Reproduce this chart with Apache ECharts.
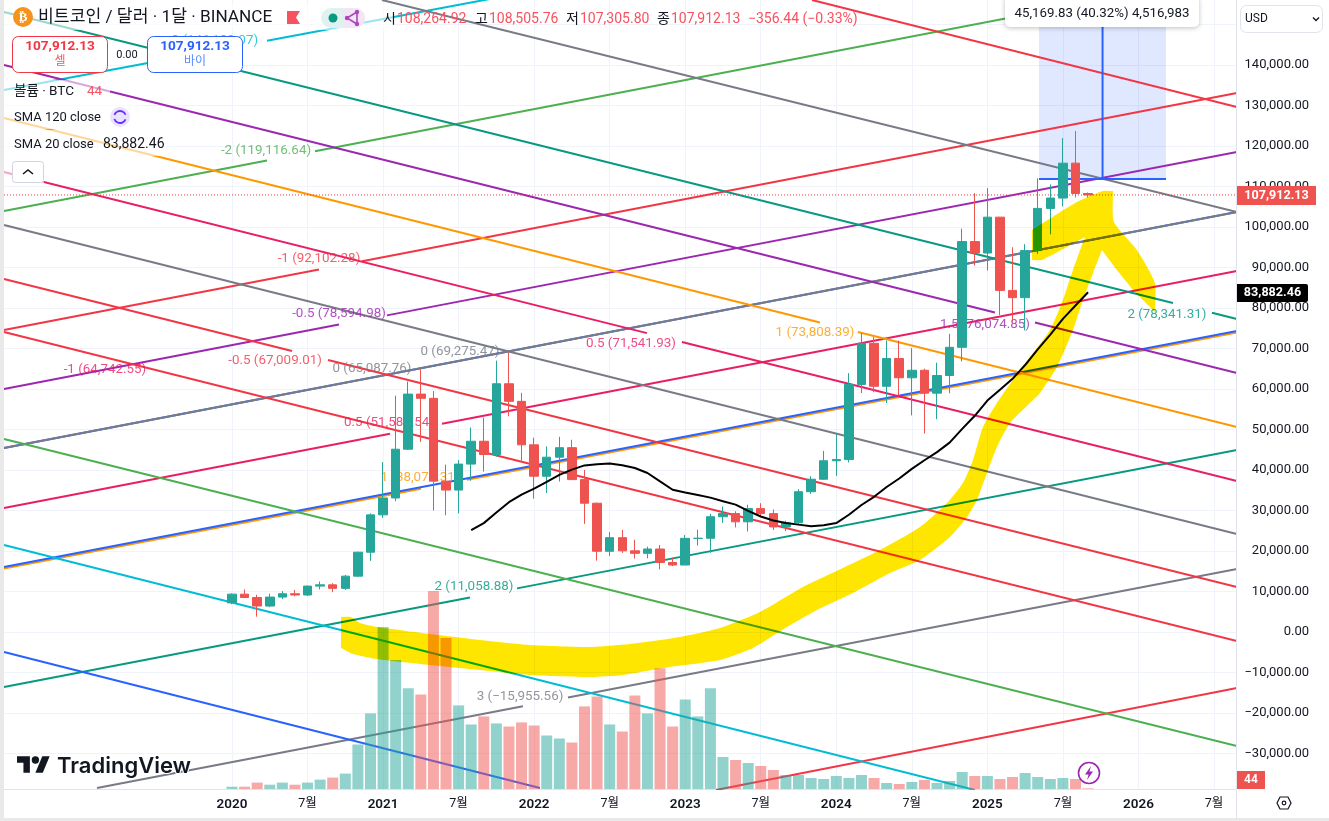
<!DOCTYPE html>
<html><head><meta charset="utf-8">
<style>html,body{margin:0;padding:0;background:#fff}#c{width:1329px;height:821px}</style>
<script src="https://cdn.jsdelivr.net/npm/echarts@6/dist/echarts.min.js"></script>
</head><body><div id="c"></div>
<script>
// Month index: 0 = 2020-01
const priceTicks=[-30000,-20000,-10000,0,10000,20000,30000,40000,50000,60000,70000,80000,90000,100000,110000,120000,130000,140000,150000];
const priceLabelTicks=[-30000,-20000,-10000,0,10000,20000,30000,40000,50000,60000,70000,80000,90000,100000,110000,120000,130000,140000];
const timeTicks=[0,6,12,18,24,30,36,42,48,54,60,66,72,78];
const timeLabels=['2020','7월','2021','7월','2022','7월','2023','7월','2024','7월','2025','7월','2026','7월'];
const opens=[7195,9351,8523,6410,8620,9448,9138,11335,11649,10776,13791,19700,28923,33092,45134,58739,57697,37253,35045,41461,47100,43820,61299,56950,46216,38466,43160,45510,37630,31801,19942,23296,20048,19422,20490,17165,16541,23125,23142,28465,29233,27210,30471,29232,25940,26962,34639,37723,42283,42580,61130,71280,60672,67540,62772,64628,58973,63327,70292,96407,93576,102429,84349,82550,94172,104591,107146,115764,108264.92];
const highs=[9553,10500,9188,9460,10080,10380,11444,12468,12050,14100,19863,29300,41950,58352,61844,64854,59500,41330,42448,50500,52920,67000,69000,59053,47990,45821,48189,47464,40023,31982,24668,25200,22799,21085,21480,18387,23960,25250,29184,31000,29820,31431,31804,30244,27483,35280,38450,44700,48969,63913,73777,72797,71979,71958,70079,65000,66498,73620,99588,108353,109588,102500,95000,95758,111980,110530,121950,123700,108505.76];
const lows=[6850,8410,3782,6150,8117,8833,8893,10518,9825,10376,13621,17572,28130,32296,44950,46930,30000,28805,29278,37332,39600,43283,53256,42000,32917,34322,37155,37578,26700,17622,18781,19520,18125,18190,15476,16256,16499,21351,19549,26942,25811,24800,28861,25166,24901,26538,34097,37615,38555,41884,59005,59191,56552,58402,53485,49000,52550,58946,66835,90500,89256,78258,76606,74508,93377,98200,105100,107300,107305.80];
const closes=[9352,8523,6410,8620,9448,9138,11335,11649,10776,13791,19700,28923,33092,45135,58740,57694,37253,35045,41461,47101,43824,61299,56950,46216,38466,43160,45510,37630,31801,19942,23293,20050,19422,20490,17163,16542,23125,23142,28465,29233,27210,30472,29232,25940,26962,34639,37723,42283,42580,61130,71280,60672,67540,62772,64628,58973,63327,70292,96407,93576,102429,84349,82550,94172,104591,107146,115764,108264,107912.13];
// Volume, thousand BTC
const volumes=[23,23,64,43,64,43,64,94,114,154,445,756,1620,1290,1007,946,1980,1510,836,645,726,656,625,666,635,535,505,465,826,926,645,575,936,756,1207,625,896,726,1007,320,290,260,230,190,140,140,110,100,130,110,140,110,60,50,70,90,60,80,170,130,130,100,120,160,120,100,110,100,7];
const smaStart=19;
const sma20=[25159,26883,29522,32049,33928,35379,37080,38789,40088,41140,41447,41627,41183,40500,39267,37188,35131,34424,33829,33180,32286,31455,29914,28528,27514,26939,26513,26124,26356,26895,28955,31354,33385,35791,37905,40279,42400,44410,46768,50165,53382,57143,59837,62503,65914,69796,73421,77323,80622,83889];
// Drawn trend lines: start month/price, end month/price, gap month range for its label
const lineColors=['#00bcd4','#4caf50','#f23645','#9c27b0','#2962ff','#787b86','#e91e63','#ff9800','#2962ff','#089981','#787b86','#f23645','#787b86','#f23645','#089981','#9c27b0','#ff9800','#e91e63','#787b86','#f23645','#f23645','#4caf50','#00bcd4','#2962ff'];
const lineM0=[-18.11,-18.11,-18.11,-18.11,-18.11,-18.11,-18.11,-18.11,-18.11,-18.11,-10.72,38.44,11.91,46.07,-18.11,-18.11,-18.11,-18.11,-18.11,-18.11,-18.11,-18.11,-18.11,-18.11];
const lineP0=[133825,103949,74567,59999,45431,45431,30617,15679,16049,-13580,-38518,-39012,156049,156049,153084,139998,126912,113579,100492,87159,74073,47654,21481,-4938];
const lineM1=[79.82,79.82,79.82,79.82,79.82,79.82,79.82,79.82,79.82,79.82,79.82,79.82,79.82,79.82,79.82,79.82,79.82,79.82,79.82,79.82,79.82,79.82,59.01,24.46];
const lineP1=[190861,162467,133084,118517,103702,103702,89134,73950,74320,44938,15555,-13827,103702,129628,77283,63950,50617,37283,24197,11111,-2222,-28148,-39012,-38518];
const lineGapA=[-1.51,2.78,6.91,8.50,null,null,12.55,15.01,null,18.90,23.11,null,null,null,74.74,60.60,46.70,32.96,null,4.77,null,null,null,null];
const lineGapB=[2.78,6.59,10.33,12.31,null,null,16.68,18.67,null,22.64,26.69,null,null,null,77.84,63.78,49.72,35.74,null,7.63,null,null,null,null];
// Level labels of the drawings
const tagTexts=['-3 (146,130.07)','-2 (119,116.64)','-1 (92,102.28)','-0.5 (78,594.98)','-1 (64,742.55)','-0.5 (67,009.01)','0 (65,087.76)','0 (69,275.47)','0.5 (51,581.54)','1 (38,071.31)','0.5 (71,541.93)','1 (73,808.39)','1.5 (76,074.85)','2 (78,341.31)','2 (11,058.88)','3 (−15,955.56)'];
const tagMonths=[-1.51,2.70,6.91,8.50,-10.09,3.42,11.12,18.11,12.47,14.93,31.69,46.31,59.81,74.26,19.22,22.88];
const tagPrices=[145924,118764,92097,78517,64690,66913,64937,69135,51604,38024,71110,73826,75801,78270,11111,-16049];
const tagColors=['#00bcd4','#4caf50','#f23645','#9c27b0','#e91e63','#f23645','#787b86','#787b86','#e91e63','#ff9800','#e91e63','#ff9800','#9c27b0','#089981','#089981','#787b86'];
// Measure tool
const measureMonths=[64.10,69.15,74.19];
const measurePrices=[111850,157020];
const lastPrice=107912.13;
// Yellow highlighter stroke (repeated points keep its corners sharp)
const brushMonths=[8.66,8.66,9.45,10.17,11.52,15.73,19.70,23.67,28.44,31.61,35.58,38.76,41.94,45.35,48.53,51.47,54.65,56.79,58.06,58.86,59.65,60.76,62.59,64.97,66.00,66.80,67.75,67.75,64.34,63.54,63.54,63.54,63.54,67.12,69.18,69.98,69.98,70.06,71.88,73.31,73.31,73.31,71.72,70.29,69.10,69.10,68.39,67.59,66.80,65.53,64.18,63.38,61.80,60.76,59.97,59.17,58.38,57.03,54.65,52.26,49.32,46.47,44.08,41.38,38.76,34.23,31.06,28.44,23.67,19.70,15.73,11.52,9.61,8.66,8.66];
const brushPrices=[3704,3704,3704,2222,1235,-494,-1975,-3210,-3704,-2963,-1235,988,4938,11111,15802,20247,25926,31851,36790,42469,50617,56542,64690,74567,81975,89381,97530,97530,91851,91851,91851,99258,99258,106171,108889,108889,108889,101233,94319,86172,79011,79011,83949,89381,94319,94319,88641,81975,74567,65431,59011,56542,51604,45678,39259,32592,28395,23456,17777,14568,9629,5432,1235,-3951,-6913,-8889,-10617,-11111,-10617,-9383,-8148,-6667,-5432,-3951,-3951];

const up='#26a69a',down='#ef5350',BRUSH='#ffe600';
const LF='Roboto,"Noto Sans CJK KR",sans-serif';
const candles=opens.map((o,i)=>[i,o,closes[i],lows[i],highs[i]]);
const volData=volumes.map((v,i)=>({value:[i,v],itemStyle:{color:closes[i]>=opens[i]?'rgba(38,166,154,0.5)':'rgba(239,83,80,0.5)'}}));
function lineSegs(i){
  const a=[lineM0[i],lineP0[i]],b=[lineM1[i],lineP1[i]];
  if(lineGapA[i]==null) return [a,b];
  const at=m=>[m,a[1]+(b[1]-a[1])*(m-a[0])/(b[0]-a[0])];
  return [a,at(lineGapA[i]),[null,null],at(lineGapB[i]),b];
}
const series=[];
series.push({type:'custom',name:'measure',xAxisIndex:0,yAxisIndex:0,z:1,clip:true,silent:true,data:[[measureMonths[0],measurePrices[0]]],
  renderItem(p,api){const a=api.coord([measureMonths[0],measurePrices[1]]),b=api.coord([measureMonths[2],measurePrices[0]]);
    return {type:'rect',shape:{x:a[0],y:a[1],width:b[0]-a[0],height:b[1]-a[1]},style:{fill:'rgba(41,98,255,0.15)'}};}});
lineColors.forEach((c,i)=>series.push({type:'line',silent:true,symbol:'none',z:2,connectNulls:false,lineStyle:{color:c,width:2,opacity:1},data:lineSegs(i)}));
series.push({type:'line',silent:true,symbol:'none',z:2,lineStyle:{color:'#2962ff',width:2},data:[[measureMonths[0],measurePrices[0]],[measureMonths[2],measurePrices[0]]]});
series.push({type:'line',silent:true,symbol:'none',z:2,lineStyle:{color:'#2962ff',width:2},data:[[measureMonths[1],measurePrices[0]],[measureMonths[1],measurePrices[1]]]});
series.push({type:'scatter',silent:true,symbolSize:0,z:2,data:tagTexts.map((t,i)=>({value:[tagMonths[i],tagPrices[i]],label:{show:true,position:'inside',formatter:t,color:tagColors[i],fontSize:13.4,fontFamily:LF}}))});
series.push({type:'bar',silent:true,yAxisIndex:1,barWidth:11,z:3,data:volData});
series.push({type:'line',silent:true,symbol:'none',z:3,lineStyle:{color:'#f23645',width:1,type:[1,2]},data:[[lineM0[0],lastPrice],[lineM1[0],lastPrice]]});
series.push({type:'candlestick',silent:true,z:4,barWidth:9,encode:{x:0,y:[1,2,3,4]},itemStyle:{color:up,color0:down,borderColor:up,borderColor0:down,borderWidth:1},data:candles});
series.push({type:'line',silent:true,symbol:'none',z:5,lineStyle:{color:'#000',width:2},data:sma20.map((v,i)=>[smaStart+i,v])});
series.push({type:'custom',name:'brush',silent:true,z:6,data:[[0,0]],
  renderItem(p,api){return {type:'polygon',shape:{smooth:0.2,points:brushMonths.map((m,i)=>api.coord([m,brushPrices[i]]))},style:{fill:BRUSH,blend:'multiply'}};}});

// ---- Interface furniture
const g=[];
const T=(x,y,text,o={})=>g.push({type:'text',x,y:y+1,z:o.z||30,silent:true,style:{text,fill:o.c||'#131722',font:`${o.w||'normal'} ${o.s||13}px ${o.f||LF}`,textAlign:o.a||'left',align:o.a||'left',textVerticalAlign:'middle',verticalAlign:'middle'}});
const R=(x,y,w,h,o={})=>g.push({type:'rect',z:o.z||20,silent:true,shape:{x,y,width:w,height:h,r:o.r||0},style:{fill:o.fill==null?'#fff':o.fill,stroke:o.stroke||null,lineWidth:o.lw||1,opacity:o.op==null?1:o.op,shadowBlur:o.sb||0,shadowColor:'rgba(0,0,0,0.25)',shadowOffsetY:o.sb?1:0}});
const C=(cx,cy,r,o={})=>g.push({type:'circle',z:o.z||25,silent:true,shape:{cx,cy,r},style:{fill:o.fill==null?'#fff':o.fill,stroke:o.stroke||null,lineWidth:o.lw||1}});
const PL=(pts,o={})=>g.push({type:'polyline',z:o.z||25,silent:true,shape:{points:pts},style:{fill:null,stroke:o.c||'#131722',lineWidth:o.lw||1.5}});
// frame
R(0,0,4,821,{fill:'#e9e9ea',z:28});
R(0,818,1329,3,{fill:'#e9e9ea',z:28});
R(1236,0,1,818,{fill:'#e0e3eb',z:19});
// legend backdrops
R(4,4,390,26,{op:0.6});R(4,80,106,22,{op:0.6});R(4,105,134,24,{op:0.6});R(4,130,166,26,{op:0.6});R(4,160,40,24,{op:0.6});
// title row
C(23,17,10,{fill:'#f7931a'});
T(23,16.5,'₿',{c:'#fff',w:'bold',s:13,a:'center',f:'"DejaVu Sans"',z:31});
T(38,16.5,'비트코인 / 달러 · 1달 · BINANCE',{s:17.2,f:'Roboto,"Noto Sans CJK KR"'});
g.push({type:'polygon',z:25,silent:true,shape:{points:[[287,11],[300,11],[296,17.5],[300,24],[287,24]]},style:{fill:'#f7525f'}});
R(321,8,44,20,{fill:'#e0f2ef',r:10});
R(343,8,22,20,{fill:'#f3e5f5',r:[0,10,10,0],z:21});
C(333,18,4.5,{fill:'#089981'});
PL([[357,12],[347,18],[357,24],[357,12]],{c:'#ab47bc',lw:1.6});
C(357,12,2.2,{fill:'#ab47bc'});C(347,18,2.2,{fill:'#ab47bc'});C(357,24,2.2,{fill:'#ab47bc'});
const ohlc=[[383,'시'],[397,'108,264.92',1],[475,'고'],[489,'108,505.76',1],[566,'저'],[580,'107,305.80',1],[657,'종'],[671,'107,912.13',1],[748,'−356.44 (−0.33%)',1]];
ohlc.forEach(o=>T(o[0],18,o[1],{s:14,c:o[2]?'#f7525f':'#131722'}));
// sell/buy
R(12.5,36.5,95,36,{stroke:'#f23645',r:6});
T(60,46,'107,912.13',{c:'#f23645',w:'bold',s:13.6,a:'center'});T(60,60.5,'셀',{c:'#f7525f',s:12,a:'center'});
T(127,54,'0.00',{s:11,a:'center'});
R(147.5,36.5,95,36,{stroke:'#2962ff',r:6});
T(195,46,'107,912.13',{c:'#2962ff',w:'bold',s:13.6,a:'center'});T(195,60.5,'바이',{c:'#5b8cff',s:12,a:'center'});
// legend rows
T(14,91,'볼륨 · BTC',{s:13.5});T(87,91,'44',{c:'#f7525f',s:13.5});
T(14,116.5,'SMA 120 close',{s:13});
C(120,117,10,{fill:'#e8e3ff'});
g.push({type:'arc',z:26,silent:true,shape:{cx:120,cy:117,r:6,startAngle:0.4,endAngle:2.8},style:{stroke:'#6a2cff',lineWidth:1.8,fill:null}});
g.push({type:'arc',z:26,silent:true,shape:{cx:120,cy:117,r:6,startAngle:3.5,endAngle:5.9},style:{stroke:'#6a2cff',lineWidth:1.8,fill:null}});
T(14,143.5,'SMA 20 close',{s:13});T(103,143.5,'83,882.46',{s:14});
R(12.5,161.5,31,21,{stroke:'#d1d4dc',r:3});
PL([[23,174],[28,170],[33,174]],{lw:1.5});
// measure callout
R(1005,-4,194,31,{r:5,sb:5});
T(1102,12.5,'45,169.83 (40.32%) 4,516,983',{s:13.3,a:'center'});
// currency
R(1238,0,91,36,{z:19});
R(1240.5,5.5,82,27,{stroke:'#e0e3eb',r:6});
T(1245,18,'USD',{s:12});
PL([[1313,17.5],[1316,20.5],[1319,17.5]],{lw:1.4});
// price tags
R(1237,186,79,19,{fill:'#ef5350'});T(1276.5,194.5,'107,912.13',{c:'#fff',w:'bold',s:12.6,a:'center'});
R(1237,284,71,18,{fill:'#000',r:[0,2,2,0]});T(1272.5,292,'83,882.46',{c:'#fff',w:'bold',s:12.6,a:'center'});
R(1237,771,28,18,{fill:'#ef5350'});T(1251,779,'44',{c:'#fff',w:'bold',s:12,a:'center'});
// settings icon
g.push({type:'polygon',z:25,silent:true,shape:{points:[[1277,803],[1280,797],[1288,797],[1291,803],[1288,809],[1280,809]]},style:{fill:'#fff',stroke:'#131722',lineWidth:1.2}});
C(1284,803,1.8,{stroke:'#131722',lw:1.2});
// logo
g.push({type:'polygon',x:17,y:752.6,scaleX:0.92,scaleY:0.92,z:25,silent:true,shape:{points:[[14,22],[7,22],[7,11],[0,11],[0,4],[14,4]]},style:{fill:'#131722'}});
g.push({type:'polygon',x:17,y:752.6,scaleX:0.92,scaleY:0.92,z:25,silent:true,shape:{points:[[28,22],[20,22],[27.5,4],[35.5,4]]},style:{fill:'#131722'}});
C(35.4,760,3.7,{fill:'#131722'});
g.push({type:'text',x:57,y:766,z:25,silent:true,style:{text:'TradingView',fill:'#131722',font:'600 22px Inter,Roboto,sans-serif',textAlign:'left',align:'left',textVerticalAlign:'middle',verticalAlign:'middle',stroke:'#fff',lineWidth:2}});
// alert icon
C(1089,773,10.5,{stroke:'#9c27b0',lw:1.6});
g.push({type:'polygon',z:26,silent:true,shape:{points:[[1091,766],[1085,774.5],[1088.6,774.5],[1087,780],[1093,771.5],[1089.4,771.5]]},style:{fill:'#9c27b0'}});

const chart=echarts.init(document.getElementById('c'),null,{renderer:'canvas',width:1329,height:821});
chart.setOption({
  animation:false,backgroundColor:'#fff',
  grid:{left:4,right:93,top:0,bottom:32,containLabel:false},
  xAxis:{type:'value',min:-18.11,max:79.75,position:'bottom',
    axisLine:{show:true,onZero:false,lineStyle:{color:'#e0e3eb',width:1}},
    axisTick:{show:false,customValues:timeTicks},
    splitLine:{show:true,lineStyle:{color:'#f0f3fa',width:1}},
    axisLabel:{customValues:timeTicks,margin:9,hideOverlap:false,showMinLabel:true,showMaxLabel:true,
      formatter:v=>{const l=timeLabels[timeTicks.indexOf(v)];return /월/.test(l)?'{m|'+l+'}':'{y|'+l+'}';},
      rich:{y:{color:'#131722',fontSize:13.5,fontWeight:600,fontFamily:LF},m:{color:'#131722',fontSize:12.5,fontFamily:LF}}}},
  yAxis:[{type:'value',position:'right',min:-38765,max:156049,
    axisLine:{show:false},axisTick:{show:false,customValues:priceTicks},
    splitLine:{show:true,lineStyle:{color:'#f0f3fa',width:1}},
    axisLabel:{customValues:priceLabelTicks,margin:73,align:'right',color:'#131722',fontSize:13,fontFamily:LF,padding:[6,0,0,0],
      formatter:v=>(v<0?'−':'')+Math.abs(v).toLocaleString('en-US',{minimumFractionDigits:2,maximumFractionDigits:2})}},
    {type:'value',position:'right',min:0,max:7890,show:false,splitLine:{show:false}}],
  series,
  graphic:{elements:g}
});
// highlighter ink multiplies over whatever is under it
const zr=chart.getZr();
zr.storage.getDisplayList(true).forEach(el=>{
  if(el.style&&el.style.fill===BRUSH){el.style.blend='multiply';el.markRedraw();}
});
zr.refreshImmediately&&zr.refreshImmediately();
zr.flush&&zr.flush();
</script></body></html>
